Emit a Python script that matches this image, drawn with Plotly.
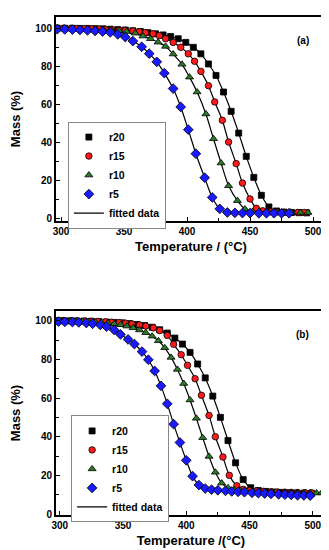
import plotly.graph_objects as go

# ---------------- Panel (a) data ----------------
a_r20_T = [297, 303, 309, 315, 321, 327, 333, 339, 345, 351, 357, 363, 369, 375, 381, 387, 393, 399,
           405, 411, 417, 423, 429, 435, 441, 447, 453, 459, 465, 471, 477, 483, 489, 495]
a_r20_m = [100.0, 99.9, 99.9, 99.8, 99.8, 99.7, 99.6, 99.4, 99.2, 99.0, 98.6, 98.2, 97.6, 97.0, 96.4, 95.6, 94.4, 92.5,
           89.9, 86.5, 81.2, 75.2, 66.5, 56.4, 45.0, 32.8, 21.8, 12.4, 6.3, 4.2, 3.6, 3.4, 3.3, 3.2]

a_r15_T = [297, 302, 308, 313, 319, 324, 330, 335, 340, 346, 351, 357, 362, 367, 373, 378, 383, 389, 395,
           401, 406, 411, 417, 422, 428, 433, 439, 444, 450, 455, 460, 466, 471, 477, 482, 488, 493]
a_r15_m = [99.9, 99.9, 99.8, 99.8, 99.7, 99.6, 99.5, 99.4, 99.2, 99.0, 98.8, 98.5, 98.1, 97.6, 97.0, 96.0, 94.4, 92.5, 89.9,
           86.5, 82.6, 77.3, 69.8, 61.3, 51.7, 40.3, 29.0, 18.8, 10.5, 5.6, 4.3, 3.8, 3.6, 3.5, 3.5, 3.4, 3.4]

a_r10_T = [297, 303, 309, 315, 322, 328, 334, 340, 346, 352, 359, 365, 371, 377, 383, 389, 396,
           402, 408, 415, 421, 427, 433, 440, 446, 452, 458, 465, 471, 477, 483, 490, 496]
a_r10_m = [99.8, 99.7, 99.6, 99.5, 99.3, 99.2, 99.0, 98.8, 98.6, 98.2, 97.3, 95.8, 94.4, 92.6, 90.4, 86.4, 81.0,
           74.3, 66.5, 55.0, 42.0, 29.3, 17.4, 9.6, 5.2, 3.9, 3.6, 3.5, 3.5, 3.4, 3.4, 3.4, 3.4]

a_r5_T = [297, 303, 309, 315, 321, 327, 333, 339, 345, 351, 357, 364, 370, 376, 382, 389, 395,
          401, 407, 414, 420, 426, 432, 438, 444, 450, 457, 463, 469, 475, 481]
a_r5_m = [99.4, 99.3, 99.2, 99.0, 98.8, 98.5, 98.2, 97.7, 96.7, 95.3, 93.2, 90.2, 86.6, 82.3, 76.4, 68.3, 58.7,
          46.8, 34.2, 21.6, 11.3, 5.3, 3.4, 3.2, 3.1, 3.1, 3.0, 3.0, 3.0, 3.0, 3.0]

# ---------------- Panel (b) data ----------------
b_r20_T = [301, 307, 313, 319, 325, 331, 337, 343, 349, 355, 361, 367, 373, 379, 385, 391, 397,
           403, 409, 415, 421, 427, 433, 439, 445, 451, 457, 463, 469, 475, 481, 487, 493, 499]
b_r20_m = [100.0, 99.9, 99.9, 99.8, 99.7, 99.5, 99.3, 99.1, 98.9, 98.5, 98.0, 97.5, 96.6, 95.3, 93.6, 91.0, 87.9,
           83.6, 77.6, 70.4, 61.0, 50.0, 38.0, 26.5, 17.8, 13.6, 12.2, 11.7, 11.4, 11.2, 11.0, 10.9, 10.8, 10.7]

b_r15_T = [298, 303, 309, 314, 320, 325, 330, 336, 341, 347, 352, 357, 363, 368, 374, 379, 385, 390, 396,
           401, 407, 412, 418, 423, 429, 434, 440, 445, 450, 456, 461, 467, 472, 478, 483, 488, 494, 499]
b_r15_m = [100.0, 100.0, 99.9, 99.8, 99.8, 99.7, 99.6, 99.4, 99.2, 99.0, 98.7, 98.3, 97.8, 97.2, 96.3, 94.9, 92.4, 87.8, 82.4,
           76.9, 70.0, 61.4, 51.0, 40.0, 29.5, 20.0, 14.6, 12.8, 12.2, 11.9, 11.7, 11.5, 11.4, 11.3, 11.2, 11.1, 11.0, 11.0]

b_r10_T = [298, 303, 308, 313, 318, 323, 328, 333, 338, 343, 348, 353, 358, 363, 368, 373, 378, 383, 388, 393,
           398, 403, 408, 413, 418, 423, 428, 433, 438, 443, 448, 453, 458, 463, 468, 473, 478, 483, 488, 493,
           498, 503, 507]
b_r10_m = [99.9, 99.9, 99.8, 99.7, 99.6, 99.5, 99.3, 99.1, 98.8, 98.4, 97.9, 97.2, 96.3, 95.2, 93.8, 92.0, 89.6, 86.0, 81.0, 74.8,
           67.5, 59.0, 49.5, 39.5, 29.8, 21.6, 16.0, 13.6, 12.6, 12.1, 11.8, 11.6, 11.5, 11.4, 11.3, 11.2, 11.1, 11.1, 11.0, 11.0,
           10.9, 10.9, 10.9]

b_r5_T = [299, 304, 310, 315, 321, 326, 332, 337, 343, 348, 354, 359, 365, 370, 375, 380, 385, 390, 395,
          400, 405, 410, 415, 420, 425, 431, 436, 441, 446, 452, 457, 462, 467, 473, 478, 483, 488, 493, 498]
b_r5_m = [99.5, 99.4, 99.3, 99.1, 98.8, 98.4, 97.8, 96.9, 95.2, 92.9, 90.3, 87.9, 84.0, 79.8, 74.0, 66.3, 57.0, 46.5, 37.0,
          27.8, 19.6, 15.0, 13.2, 12.6, 12.3, 12.0, 11.7, 11.5, 11.3, 11.0, 10.8, 10.6, 10.4, 10.2, 10.0, 9.9, 9.7, 9.6, 9.5]

series_names = ["r20", "r15", "r10", "r5"]
series_colors = ["#000000", "#ff1a1a", "#2a7a2a", "#1a1aff"]
series_symbols = ["square", "circle", "triangle-up", "diamond"]
series_sizes = [6, 6.5, 7, 7.5]

panels = [
    ("x", "y", "legend",
     [(a_r20_T, a_r20_m), (a_r15_T, a_r15_m), (a_r10_T, a_r10_m), (a_r5_T, a_r5_m)]),
    ("x2", "y2", "legend2",
     [(b_r20_T, b_r20_m), (b_r15_T, b_r15_m), (b_r10_T, b_r10_m), (b_r5_T, b_r5_m)]),
]

FONT = "Arial, Liberation Sans, sans-serif"
fig = go.Figure()

for xa, ya, leg, data in panels:
    # fitted lines
    for i, (T, m) in enumerate(data):
        fig.add_trace(go.Scatter(
            x=T, y=m, mode="lines", xaxis=xa, yaxis=ya,
            line=dict(color="black", width=1.2, shape="spline", smoothing=0.8),
            name="fitted data", legend=leg, legendrank=10,
            showlegend=(i == 0), hoverinfo="skip"))
    # markers
    for i, (T, m) in enumerate(data):
        fig.add_trace(go.Scatter(
            x=T, y=m, mode="markers", xaxis=xa, yaxis=ya,
            marker=dict(symbol=series_symbols[i], size=series_sizes[i], color=series_colors[i],
                        line=dict(color="black", width=0.8)),
            name=series_names[i], legend=leg, legendrank=i + 1))

W, H = 329, 550
ml, mr, mt, mb = 48, 11, 9, 43

axis_common = dict(
    showline=True, linewidth=2, linecolor="black", mirror=True,
    ticks="inside", ticklen=4, tickwidth=1, tickcolor="black",
    showgrid=False, zeroline=False, automargin=False,
    tickfont=dict(family=FONT, size=10, color="black", weight="bold"),
)

fig.update_layout(
    width=W, height=H,
    margin=dict(l=ml, r=mr, t=mt, b=mb),
    paper_bgcolor="white", plot_bgcolor="white",
    font=dict(family=FONT, color="black"),
    xaxis=dict(domain=[0, 1], anchor="y", range=[296, 510.3], tickvals=[300, 350, 400, 450, 500],
               minor=dict(ticks="inside", ticklen=3, tickvals=[325, 375, 425, 475], tickcolor="black"),
               title=dict(text="Temperature / (°C)", font=dict(family=FONT, size=13, weight="bold"), standoff=6),
               **axis_common),
    yaxis=dict(domain=[0.5904, 1], anchor="x", range=[-1.05, 105.8], tickvals=[0, 20, 40, 60, 80, 100],
               minor=dict(ticks="inside", ticklen=3, tickvals=[10, 30, 50, 70, 90], tickcolor="black"),
               title=dict(text="Mass (%)", font=dict(family=FONT, size=13, weight="bold"), standoff=14),
               **axis_common),
    xaxis2=dict(domain=[0, 1], anchor="y2", range=[297, 510.5], tickvals=[300, 350, 400, 450, 500],
                minor=dict(ticks="inside", ticklen=3, tickvals=[325, 375, 425, 475], tickcolor="black"),
                title=dict(text="Temperature /(°C)", font=dict(family=FONT, size=13, weight="bold"), standoff=6),
                **axis_common),
    yaxis2=dict(domain=[0, 0.4096], anchor="x2", range=[-0.5, 105], tickvals=[0, 20, 40, 60, 80, 100],
                minor=dict(ticks="inside", ticklen=3, tickvals=[10, 30, 50, 70, 90], tickcolor="black"),
                title=dict(text="Mass (%)", font=dict(family=FONT, size=13, weight="bold"), standoff=14),
                **axis_common),
    legend=dict(x=0.044, y=0.79, xanchor="left", yanchor="top",
                bgcolor="white", bordercolor="#888888", borderwidth=1,
                font=dict(family=FONT, size=10.5, color="black", weight="bold"),
                tracegroupgap=0, itemwidth=30),
    legend2=dict(x=0.056, y=0.2, xanchor="left", yanchor="top",
                 bgcolor="white", bordercolor="#888888", borderwidth=1,
                 font=dict(family=FONT, size=10.5, color="black", weight="bold"),
                 tracegroupgap=0, itemwidth=30),
    annotations=[
        dict(text="(a)", xref="x domain", yref="y domain", x=0.943, y=0.922, showarrow=False,
             font=dict(family=FONT, size=10, weight="bold", color="black")),
        dict(text="(b)", xref="x2 domain", yref="y2 domain", x=0.946, y=0.922, showarrow=False,
             font=dict(family=FONT, size=10, weight="bold", color="black")),
    ],
)

fig.write_html("out.html")
